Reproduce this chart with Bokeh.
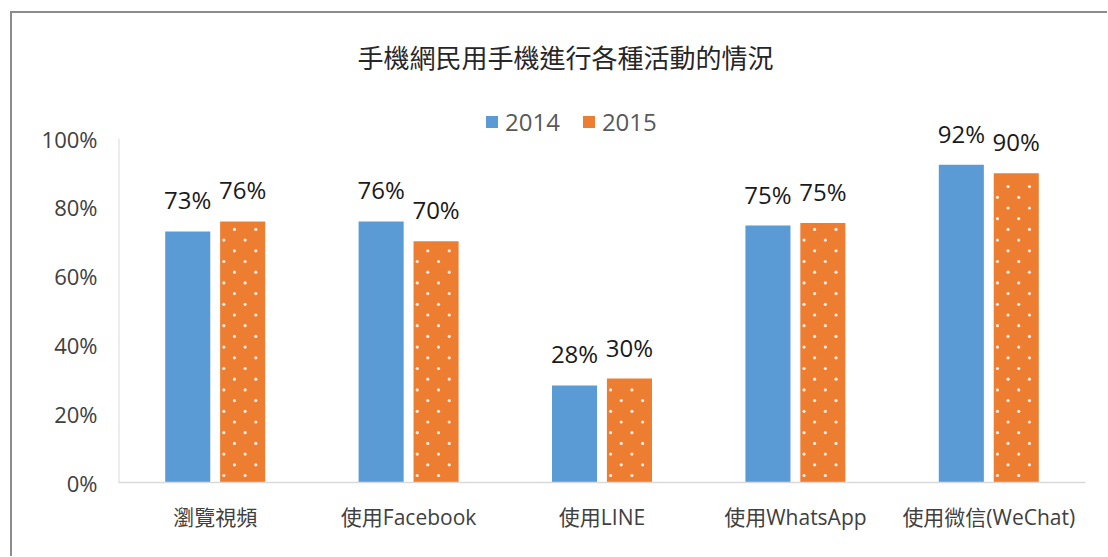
import numpy as np
from bokeh.plotting import figure
from bokeh.core.properties import value
from bokeh.models import (ColumnDataSource, Range1d, FixedTicker, NumeralTickFormatter,
                          LabelSet, Label, Legend, LegendItem)
from bokeh.embed import file_html
from bokeh.resources import INLINE

title = "手機網民用手機進行各種活動的情況"
categories = ["瀏覽視頻", "使用Facebook", "使用LINE", "使用WhatsApp", "使用微信(WeChat)"]
series_names = ["2014", "2015"]
values_2014 = [73.0, 75.9, 28.2, 74.7, 92.4]
values_2015 = [75.9, 70.1, 30.2, 75.4, 89.9]
y_ticks = [0, 20, 40, 60, 80, 100]

BLUE = "#5B9BD5"
ORANGE = "#ED7D31"
LATIN = "Open Sans, Noto Sans CJK TC"
CJK = "Noto Sans CJK TC"

# pixel geometry of the frame (style only)
PX_PER_CAT = 193.4
PX_PER_UNIT = 344.0
Y_TOP = 469.0 / PX_PER_UNIT  # frame extends above 100% to hold title & legend

idx = np.arange(len(categories)) + 0.5
off = 0.142
bw = 0.233

top1 = np.array(values_2014) / 100
top2 = np.array(values_2015) / 100

src1 = ColumnDataSource(dict(x=idx - off, top=top1, lab=[f"{round(v)}%" for v in values_2014]))
src2 = ColumnDataSource(dict(x=idx + off, top=top2, lab=[f"{round(v)}%" for v in values_2015]))

p = figure(width=1097, height=545, output_backend="svg", toolbar_location=None,
           x_range=Range1d(0, len(categories)), y_range=Range1d(0, Y_TOP),
           min_border_left=106, min_border_right=24, min_border_top=0, min_border_bottom=76)
p.styles = {"border-left": "2px solid #8c8c8c", "border-top": "2px solid #8c8c8c",
            "margin-left": "10px", "margin-top": "11px"}
p.outline_line_color = None
p.xgrid.visible = False
p.ygrid.visible = False
p.background_fill_color = "white"
p.border_fill_color = "white"

r1 = p.vbar(x="x", top="top", width=bw, source=src1, fill_color=BLUE, line_color=None)
r2 = p.vbar(x="x", top="top", width=bw, source=src2, fill_color=ORANGE, line_color=None)

# dotted texture on the 2015 bars (staggered white dots)
dx, dy = [], []
for xc, t in zip(idx + off, top2):
    left_px = (xc - bw / 2) * PX_PER_CAT
    top_px = t * PX_PER_UNIT
    k = 0
    while True:
        ypx = 7 + k * 10.7
        if ypx > top_px - 3:
            break
        offs = (3.7, 25.0) if k % 2 == 0 else (14.3, 35.7)
        for o in offs:
            dx.append((left_px + o) / PX_PER_CAT)
            dy.append(ypx / PX_PER_UNIT)
        k += 1
p.scatter(dx, dy, marker="circle", size=3.2, fill_color="white", fill_alpha=0.85, line_color=None)

# y-axis line only from 0% to 100%
p.segment(x0=[0], y0=[0], x1=[0], y1=[1], line_color="#d9d9d9", line_width=2)

for s in (src1, src2):
    p.add_layout(LabelSet(x="x", y="top", text="lab", source=s, text_align="center",
                          text_baseline="alphabetic", y_offset=22,
                          text_font=value("Open Sans"), text_font_size=value("24px"),
                          text_color=value("#1a1a1a")))

# axes
p.yaxis.ticker = FixedTicker(ticks=[t / 100 for t in y_ticks])
p.yaxis.formatter = NumeralTickFormatter(format="0%")
p.yaxis.major_tick_out = 0
p.yaxis.major_tick_in = 0
p.yaxis.minor_tick_out = 0
p.yaxis.minor_tick_in = 0
p.yaxis.axis_line_color = None
p.yaxis.major_label_standoff = 21
p.yaxis.major_label_text_font = LATIN
p.yaxis.major_label_text_font_size = "22px"
p.yaxis.major_label_text_color = "#404040"

p.xaxis.ticker = FixedTicker(ticks=list(idx))
p.xaxis.major_label_overrides = {float(v): c for v, c in zip(idx, categories)}
p.xaxis.major_tick_out = 0
p.xaxis.major_tick_in = 0
p.xaxis.minor_tick_out = 0
p.xaxis.minor_tick_in = 0
p.xaxis.axis_line_color = "#d9d9d9"
p.xaxis.axis_line_width = 1.5
p.xaxis.major_label_standoff = 20
p.xaxis.major_label_text_font = LATIN
p.xaxis.major_label_text_font_size = "21px"
p.xaxis.major_label_text_color = "#404040"

legend = Legend(items=[LegendItem(label=series_names[0], renderers=[r1]),
                       LegendItem(label=series_names[1], renderers=[r2])],
                orientation="horizontal", location=(366, 344),
                glyph_width=15, glyph_height=15, label_standoff=6, spacing=21,
                padding=0, margin=0, border_line_color=None, background_fill_alpha=0,
                label_text_font="Open Sans", label_text_font_size="24px",
                label_text_color="#595959", label_text_baseline="middle")
p.add_layout(legend)

p.add_layout(Label(x=(565 - 118) / PX_PER_CAT, y=(482 - 56) / PX_PER_UNIT, text=title,
                   text_align="center", text_baseline="middle", text_font=CJK,
                   text_font_size="26px", text_color="#262626"))

open("out.html", "w").write(file_html(p, INLINE))
